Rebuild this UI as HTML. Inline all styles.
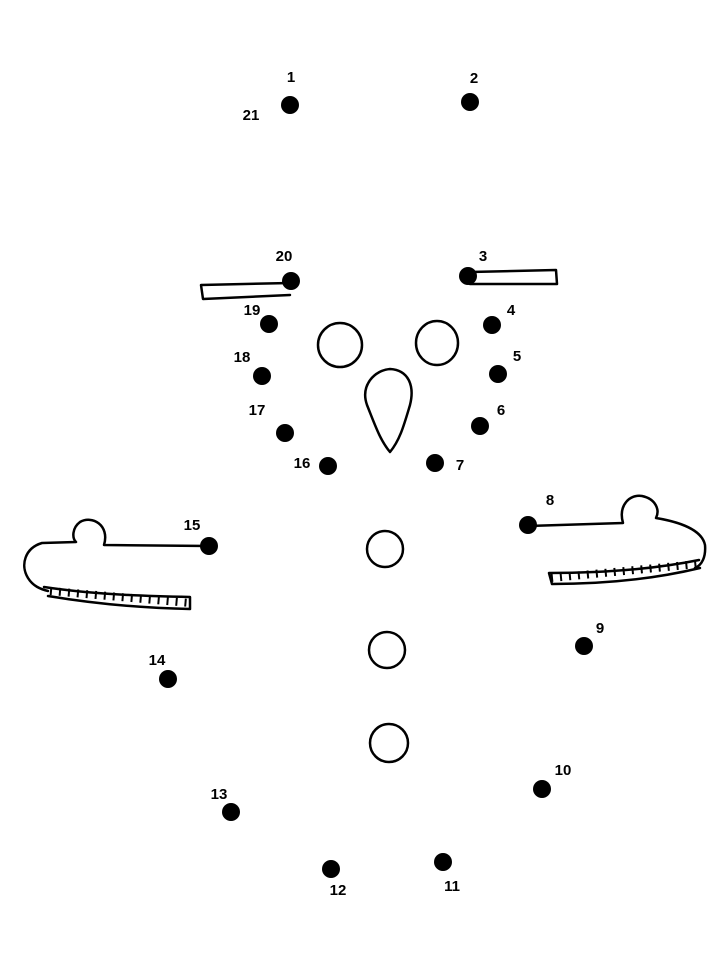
<!DOCTYPE html>
<html><head><style>html,body{margin:0;padding:0;background:#fff}svg{display:block}text{font-family:"Liberation Sans",sans-serif;font-weight:bold;font-size:15px;fill:#000}</style></head>
<body>
<svg width="718" height="957" viewBox="0 0 718 957" xmlns="http://www.w3.org/2000/svg">
<g fill="none" stroke="#000" stroke-width="2.5" stroke-linecap="round" stroke-linejoin="round">
<!-- brims -->
<path d="M290,283 L201,285 L203,299 L290,295"/>
<path d="M470,272 L556,270 L557,284 L470,284"/>
<!-- eyes -->
<ellipse cx="340" cy="345" rx="22" ry="22"/>
<ellipse cx="437" cy="343" rx="21" ry="22"/>
<!-- nose -->
<path d="M390,452 C380,440 375,425 367,405 C360,385 375,370 390,369 C408,370 415,385 410,405 C404,425 400,440 390,452 Z"/>
<!-- buttons -->
<circle cx="385" cy="549" r="18"/>
<circle cx="387" cy="650" r="18"/>
<circle cx="389" cy="743" r="19"/>
<!-- left mitten -->
<path d="M209,546 L104,545 C110,525 92,515 80,522 C72,528 72,538 76,542 L42,543 C25,548 20,565 28,578 C33,586 40,589 48,591"/>
<path d="M44,587 C90,594 140,596 190,597 L190,609 C140,608 90,603 48,596"/>
<path d="M50,591 L190,603" stroke-width="8" stroke-dasharray="2 7" stroke-linecap="butt"/>
<!-- right mitten -->
<path d="M528,526 L623,523 C618,505 630,494 642,496 C656,499 660,510 656,518 C680,522 702,530 705,545 C706,557 702,565 695,568"/>
<path d="M699,560 C650,570 600,573 549,573 L552,584 C600,584 650,580 700,568"/>
<path d="M551,578 L698,564" stroke-width="8" stroke-dasharray="2 7" stroke-linecap="butt"/>
</g>
<g fill="#000">
<circle cx="290" cy="105" r="9"/><circle cx="470" cy="102" r="9"/>
<circle cx="291" cy="281" r="9"/><circle cx="468" cy="276" r="9"/>
<circle cx="269" cy="324" r="9"/><circle cx="492" cy="325" r="9"/>
<circle cx="262" cy="376" r="9"/><circle cx="498" cy="374" r="9"/>
<circle cx="285" cy="433" r="9"/><circle cx="480" cy="426" r="9"/>
<circle cx="328" cy="466" r="9"/><circle cx="435" cy="463" r="9"/>
<circle cx="528" cy="525" r="9"/><circle cx="209" cy="546" r="9"/>
<circle cx="584" cy="646" r="9"/><circle cx="168" cy="679" r="9"/>
<circle cx="542" cy="789" r="9"/><circle cx="231" cy="812" r="9"/>
<circle cx="331" cy="869" r="9"/><circle cx="443" cy="862" r="9"/>
</g>
<g text-anchor="middle">
<text x="291" y="82">1</text><text x="251" y="120">21</text>
<text x="474" y="83">2</text><text x="284" y="261">20</text>
<text x="483" y="261">3</text><text x="252" y="315">19</text>
<text x="511" y="315">4</text><text x="242" y="362">18</text>
<text x="517" y="361">5</text><text x="257" y="415">17</text>
<text x="501" y="415">6</text><text x="302" y="468">16</text>
<text x="460" y="470">7</text><text x="550" y="505">8</text>
<text x="192" y="530">15</text><text x="600" y="633">9</text>
<text x="157" y="665">14</text><text x="563" y="775">10</text>
<text x="219" y="799">13</text><text x="338" y="895">12</text>
<text x="452" y="891">11</text>
</g>
</svg>
</body></html>
